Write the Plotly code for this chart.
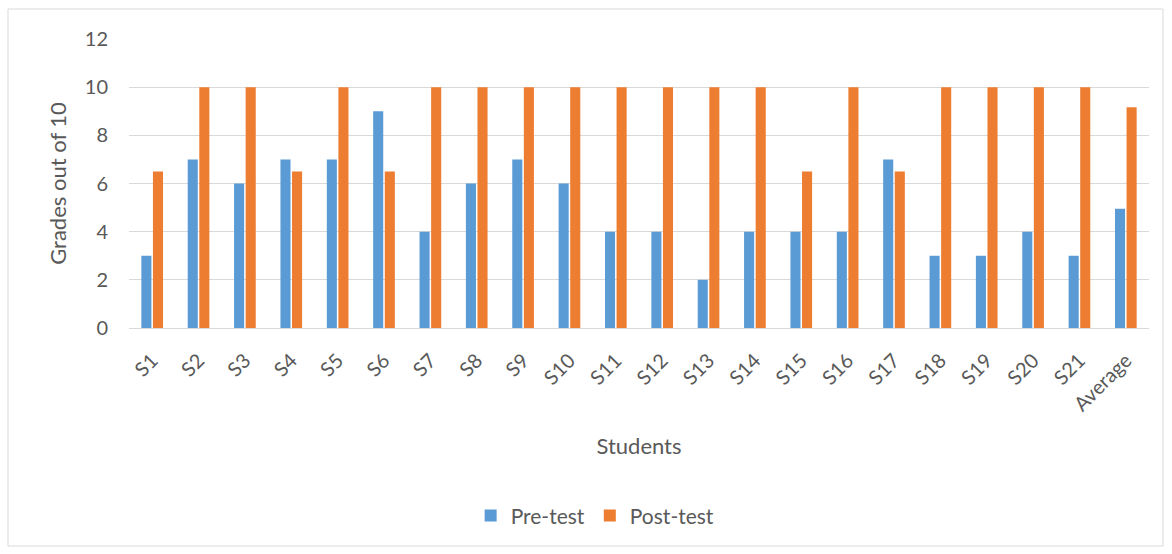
import plotly.graph_objects as go

students = ["S1", "S2", "S3", "S4", "S5", "S6", "S7", "S8", "S9", "S10", "S11",
            "S12", "S13", "S14", "S15", "S16", "S17", "S18", "S19", "S20", "S21"]
pre_test = [3, 7, 6, 7, 7, 9, 4, 6, 7, 6, 4, 4, 2, 4, 4, 4, 7, 3, 3, 4, 3]
post_test = [6.5, 10, 10, 6.5, 10, 6.5, 10, 10, 10, 10, 10, 10, 10, 10, 6.5, 10, 6.5, 10, 10, 10, 10]

categories = students + ["Average"]
pre_vals = pre_test + [sum(pre_test) / len(pre_test)]
post_vals = post_test + [sum(post_test) / len(post_test)]

FONT = "Lato"
TEXT = "#595959"

fig = go.Figure()
fig.add_trace(go.Bar(x=categories, y=pre_vals, name="Pre-test",
                     marker=dict(color="#5B9BD5", line=dict(width=0))))
fig.add_trace(go.Bar(x=categories, y=post_vals, name="Post-test",
                     marker=dict(color="#ED7D31", line=dict(width=0))))

fig.update_layout(
    width=1172, height=554,
    margin=dict(l=129, r=23, t=39, b=226),
    paper_bgcolor="white", plot_bgcolor="white",
    barmode="group", bargap=0.5, bargroupgap=0.13,
    font=dict(family=FONT, color=TEXT, size=20),
    xaxis=dict(
        tickangle=-45, tickfont=dict(size=20, color=TEXT),
        showgrid=False, showline=False, ticks="", ticklabelstandoff=16,
        title=dict(text="Students", font=dict(size=22, color=TEXT), standoff=24),
    ),
    yaxis=dict(
        range=[0, 12], dtick=2, tickfont=dict(size=20, color=TEXT),
        gridcolor="#d9d9d9", gridwidth=1, zeroline=True, zerolinecolor="#d9d9d9",
        zerolinewidth=1, showline=False, ticks="", ticklabelstandoff=20,
        title=dict(text="Grades out of 10", font=dict(size=22, color=TEXT), standoff=12),
    ),
    legend=dict(orientation="h", x=0.457, xanchor="center", y=-0.65, yanchor="middle",
                font=dict(size=21, color=TEXT), itemwidth=30, traceorder="normal"),
    shapes=[dict(type="rect", xref="paper", yref="paper",
                 x0=-121 / 1020, x1=1 + 14 / 1020, y0=-218 / 289, y1=1 + 30 / 289,
                 line=dict(color="#d9d9d9", width=1), fillcolor="rgba(0,0,0,0)",
                 layer="below")],
)

fig.write_html("out.html")
